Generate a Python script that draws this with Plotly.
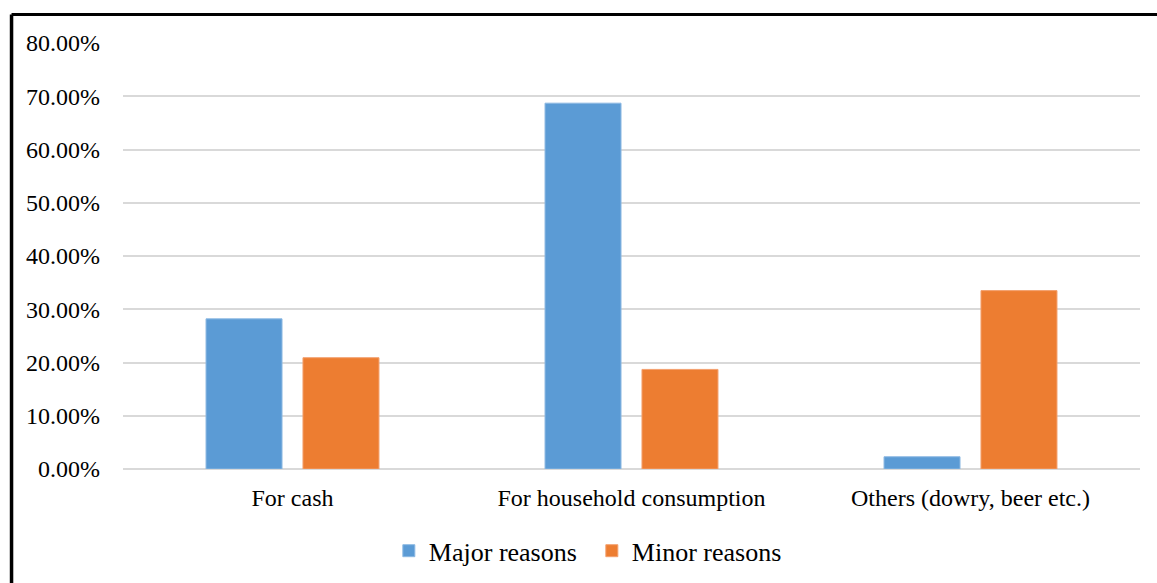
import plotly.graph_objects as go

# Reasons for producing / selling, share of respondents
categories = ["For cash", "For household consumption", "Others (dowry, beer etc.)"]
major_reasons = [0.282, 0.687, 0.023]
minor_reasons = [0.209, 0.187, 0.335]
y_ticks = [0.0, 0.1, 0.2, 0.3, 0.4, 0.5, 0.6, 0.7, 0.8]

FONT = "Liberation Serif"
BLUE = "#5B9BD5"
ORANGE = "#ED7D31"

fig = go.Figure()
fig.add_trace(go.Bar(
    x=categories, y=major_reasons, name="Major reasons",
    marker=dict(color=BLUE, line=dict(color="#8DB9E3", width=1)),
))
fig.add_trace(go.Bar(
    x=categories, y=minor_reasons, name="Minor reasons",
    marker=dict(color=ORANGE, line=dict(color="#F3A06E", width=1)),
))

fig.update_layout(
    width=1157, height=583,
    margin=dict(l=123, r=17, t=43, b=114, autoexpand=False),
    paper_bgcolor="white", plot_bgcolor="white",
    barmode="group", bargap=0.428, bargroupgap=0.216,
    font=dict(family=FONT, color="#000000", size=24),
    showlegend=True,
    legend=dict(
        orientation="h", x=0.461, xanchor="center", y=-0.192, yanchor="middle",
        font=dict(family=FONT, size=26, color="#000000"),
        itemwidth=30, traceorder="normal",
        entrywidth=158, entrywidthmode="pixels",
    ),
    xaxis=dict(
        showgrid=False, showline=False, ticks="",
        tickfont=dict(family=FONT, size=24, color="#000000"),
        ticklabelstandoff=12,
    ),
    yaxis=dict(
        range=[0, 0.8], tickvals=y_ticks,
        ticktext=[f"{v * 100:.2f}%" for v in y_ticks],
        showgrid=True, gridcolor="#D9D9D9", gridwidth=1.5,
        zeroline=True, zerolinecolor="#D9D9D9", zerolinewidth=1.5,
        showline=False, ticks="",
        tickfont=dict(family=FONT, size=24, color="#000000"),
        ticklabelstandoff=22,
    ),
    shapes=[
        # frame edges along the top and left of the chart area
        dict(type="line", xref="paper", yref="paper",
             x0=-0.1096, x1=1.02, y0=1.0669, y1=1.0669,
             line=dict(color="black", width=3)),
        dict(type="line", xref="paper", yref="paper",
             x0=-0.1096, x1=-0.1096, y0=1.0669, y1=-0.28,
             line=dict(color="black", width=3.5)),
    ],
)

fig.write_html("out.html")
